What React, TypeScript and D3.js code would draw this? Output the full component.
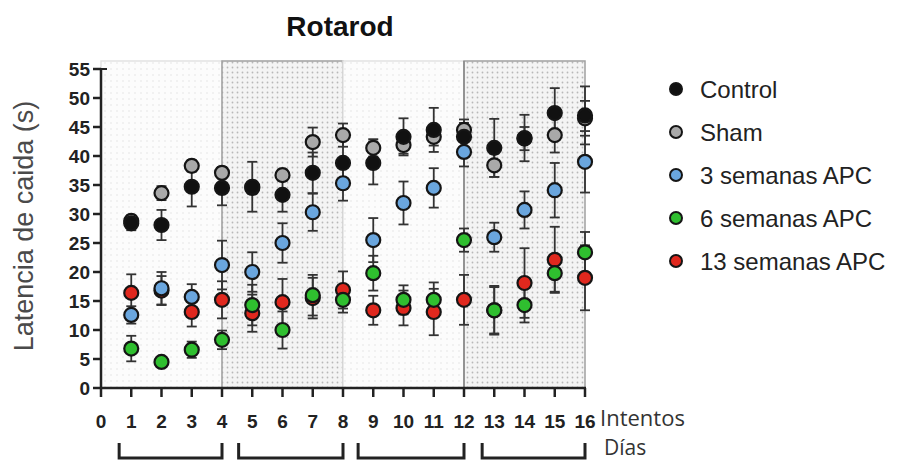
import React from 'react';
import * as d3 from 'd3';

// trials (Intentos) and day blocks (Días)
const trials = [1, 2, 3, 4, 5, 6, 7, 8, 9, 10, 11, 12, 13, 14, 15, 16];
const xTickValues = [0, 1, 2, 3, 4, 5, 6, 7, 8, 9, 10, 11, 12, 13, 14, 15, 16];
const yTickValues = [0, 5, 10, 15, 20, 25, 30, 35, 40, 45, 50, 55];
const dayBlocks = [[0, 4], [4, 8], [8, 12], [12, 16]];
const dayDense = [false, true, false, true];
const dayBrackets = [[0.6, 4], [4.55, 8], [8.5, 12], [12.6, 16]];

const seriesNames = ['Control', 'Sham', '3 semanas APC', '6 semanas APC', '13 semanas APC'];
const seriesColors = ['#111111', '#a9a9a9', '#6aa6de', '#2fbf2f', '#e0281e'];

const controlMean = [28.4, 28.1, 34.7, 34.5, 34.7, 33.3, 37.1, 38.8, 38.8, 43.3, 44.5, 43.3, 41.4, 43.1, 47.4, 47.0];
const controlErr = [1.2, 2.6, 3.4, 3.0, 4.3, 2.9, 3.5, 4.5, 3.7, 3.2, 3.8, 3.0, 5.0, 4.0, 4.3, 5.0];
const shamMean = [28.8, 33.6, 38.3, 37.1, 34.5, 36.7, 42.4, 43.6, 41.4, 41.9, 43.3, 44.5, 38.4, 43.0, 43.6, 46.5];
const shamErr = [1.0, 1.2, 1.0, 1.0, 1.0, 1.0, 2.5, 2.0, 1.5, 1.5, 1.5, 1.2, 2.0, 2.0, 3.0, 3.0];
const sem3Mean = [12.6, 17.2, 15.7, 21.2, 20.0, 25.0, 30.3, 35.3, 25.5, 31.9, 34.5, 40.7, 26.0, 30.7, 34.1, 39.0];
const sem3Err = [1.5, 2.8, 2.2, 4.2, 3.4, 3.4, 3.2, 3.0, 3.8, 3.7, 3.4, 2.5, 2.5, 3.2, 4.7, 5.3];
const sem6Mean = [6.8, 4.5, 6.6, 8.3, 14.3, 10.0, 16.0, 15.2, 19.8, 15.2, 15.2, 25.5, 13.4, 14.3, 19.8, 23.4];
const sem6Err = [2.2, 0.5, 1.4, 1.6, 3.5, 3.2, 3.5, 2.2, 3.0, 2.5, 3.0, 2.0, 4.2, 3.0, 3.2, 3.5];
const sem13Mean = [16.4, 16.8, 13.1, 15.2, 12.9, 14.8, 15.5, 16.9, 13.4, 13.8, 13.1, 15.2, 13.4, 18.1, 22.1, 19.0];
const sem13Err = [3.2, 2.5, 2.5, 3.2, 3.2, 4.0, 3.5, 3.2, 2.5, 3.0, 4.0, 4.3, 4.0, 6.0, 5.7, 5.6];

const means = [controlMean, shamMean, sem3Mean, sem6Mean, sem13Mean];
const errs = [controlErr, shamErr, sem3Err, sem6Err, sem13Err];
// back-to-front drawing order
const drawOrder = [4, 3, 2, 1, 0];

const W = 911;
const H = 462;

export default function App() {
  const x = d3.scaleLinear().domain([0, 16]).range([101, 585]);
  const y = d3.scaleLinear().domain([0, 55]).range([388, 69]);
  const top = y(55) - 8;
  const tickFont = "'Liberation Sans', Arial, sans-serif";

  return (
    <svg width={W} height={H} style={{ position: 'absolute', left: 0, top: 0, background: '#fff' }}>
      <defs>
        <pattern id="dotsLight" width="6" height="6" patternUnits="userSpaceOnUse">
          <rect width="6" height="6" fill="#fcfcfc" />
          <circle cx="3" cy="3" r="0.8" fill="#e4e4e4" />
        </pattern>
        <pattern id="dotsDense" width="5" height="5" patternUnits="userSpaceOnUse">
          <rect width="5" height="5" fill="#f4f4f4" />
          <circle cx="2.5" cy="2.5" r="0.9" fill="#b8b8b8" />
        </pattern>
      </defs>

      <text x={340} y={36} textAnchor="middle" fontFamily={tickFont} fontWeight="bold" fontSize={28} fill="#111">
        Rotarod
      </text>

      {/* day backgrounds */}
      {dayBlocks.map((d, i) => (
        <rect
          key={i}
          x={x(d[0])}
          y={top}
          width={x(d[1]) - x(d[0])}
          height={y(0) - top}
          fill={dayDense[i] ? 'url(#dotsDense)' : 'url(#dotsLight)'}
          stroke={dayDense[i] ? '#a0a0a0' : '#e2e2e2'}
          strokeWidth={1.5}
        />
      ))}
      <line x1={x(12)} x2={x(12)} y1={top} y2={y(0)} stroke="#888" strokeWidth={1.5} />

      {/* y axis */}
      <line x1={x(0)} x2={x(0)} y1={y(55) - 1} y2={y(0) + 1} stroke="#222" strokeWidth={2.5} />
      {yTickValues.map((v) => (
        <g key={v}>
          <line x1={x(0) - 8} x2={x(0)} y1={y(v)} y2={y(v)} stroke="#222" strokeWidth={2.5} />
          <text x={x(0) - 11} y={y(v) + 7} textAnchor="end" fontFamily={tickFont} fontWeight="bold" fontSize={19} fill="#222">
            {v}
          </text>
        </g>
      ))}
      <line x1={x(0)} x2={x(0) + 6} y1={y(55)} y2={y(55)} stroke="#222" strokeWidth={2} />

      {/* x axis */}
      <line x1={x(0) - 1} x2={x(16) + 1} y1={y(0)} y2={y(0)} stroke="#222" strokeWidth={2.5} />
      {xTickValues.map((v) => (
        <g key={v}>
          <line x1={x(v)} x2={x(v)} y1={y(0)} y2={y(0) + 9} stroke="#222" strokeWidth={2.5} />
          <text x={x(v)} y={428} textAnchor="middle" fontFamily={tickFont} fontWeight="bold" fontSize={19} fill="#222">
            {v}
          </text>
        </g>
      ))}
      <text x={600} y={426} fontFamily="'Open Sans', sans-serif" fontSize={22} fill="#333">Intentos</text>
      <text x={604} y={455} fontFamily="'Open Sans', sans-serif" fontSize={21} fill="#333">Días</text>

      {dayBrackets.map((b, i) => (
        <path
          key={i}
          d={`M${x(b[0])},443 V458 H${x(b[1])} V443`}
          fill="none"
          stroke="#222"
          strokeWidth={3}
        />
      ))}

      <text
        transform={`translate(33,226) rotate(-90)`}
        textAnchor="middle"
        fontFamily={tickFont}
        fontSize={27}
        fill="#4a4a4a"
      >
        Latencia de caida (s)
      </text>

      {/* error bars */}
      {drawOrder.map((s) => (
        <g key={'e' + s}>
          {trials.map((t, i) => {
            const lo = y(means[s][i] - errs[s][i]);
            const hi = y(means[s][i] + errs[s][i]);
            const cx = x(t);
            return (
              <g key={t} stroke="#333" strokeWidth={1.8}>
                <line x1={cx} x2={cx} y1={lo} y2={hi} />
                <line x1={cx - 5} x2={cx + 5} y1={lo} y2={lo} />
                <line x1={cx - 5} x2={cx + 5} y1={hi} y2={hi} />
              </g>
            );
          })}
        </g>
      ))}

      {/* points */}
      {drawOrder.map((s) => (
        <g key={'p' + s}>
          {trials.map((t, i) => (
            <circle key={t} cx={x(t)} cy={y(means[s][i])} r={7} fill={seriesColors[s]} stroke="#151515" strokeWidth={2.2} />
          ))}
        </g>
      ))}

      {/* legend */}
      {seriesNames.map((n, i) => (
        <g key={n} transform={`translate(676,${89 + i * 43})`}>
          <circle r={6} fill={seriesColors[i]} stroke="#151515" strokeWidth={2} />
          <text x={24} y={8.5} fontFamily={tickFont} fontSize={24} fill="#222">
            {n}
          </text>
        </g>
      ))}
    </svg>
  );
}
